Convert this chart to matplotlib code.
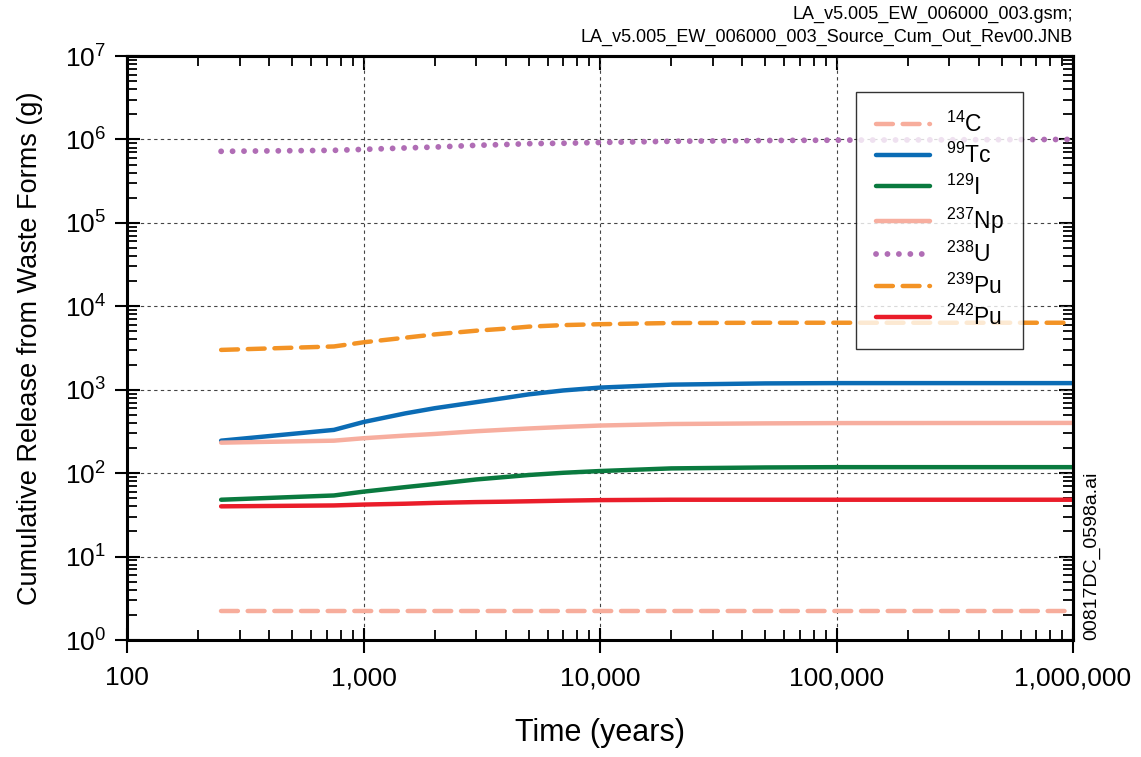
import numpy as np
import matplotlib
matplotlib.use("Agg")
import matplotlib.pyplot as plt
from matplotlib.ticker import LogLocator, FuncFormatter, NullFormatter

plt.rcParams['font.family'] = ['Liberation Sans', 'DejaVu Sans']
plt.rcParams['mathtext.default'] = 'regular'

# time grid (years)
years = [250, 750, 1000, 1500, 2000, 3000, 4000, 5000, 7000, 10000, 20000, 50000, 100000, 1000000]

# cumulative release (g)
c14 = [2.2] * 14
tc99 = [245, 330, 410, 520, 600, 710, 800, 880, 980, 1060, 1150, 1190, 1200, 1200]
i129 = [48, 54, 60, 68, 74, 84, 90, 95, 101, 106, 114, 117, 118, 118]
np237 = [232, 245, 262, 282, 295, 318, 332, 343, 358, 372, 388, 395, 398, 400]
u238 = [7.2e5, 7.4e5, 7.6e5, 7.9e5, 8.1e5, 8.5e5, 8.7e5, 8.9e5, 9.0e5, 9.2e5, 9.5e5, 9.7e5, 9.8e5, 1.0e6]
pu239 = [3000, 3300, 3700, 4200, 4600, 5100, 5400, 5700, 5950, 6100, 6300, 6350, 6350, 6350]
pu242 = [40, 41, 42, 43, 44, 45, 45.5, 46, 46.8, 47.5, 48, 48, 48, 48]

series = [
    (r'$^{14}$C', c14, '#f7ad9c', 'dash'),
    (r'$^{99}$Tc', tc99, '#0b6cb5', 'solid'),
    (r'$^{129}$I', i129, '#0a7a3f', 'solid'),
    (r'$^{237}$Np', np237, '#f7ae9f', 'solid'),
    (r'$^{238}$U', u238, '#b06db5', 'dot'),
    (r'$^{239}$Pu', pu239, '#f39325', 'dash'),
    (r'$^{242}$Pu', pu242, '#ea1d2a', 'solid'),
]

fig = plt.figure(figsize=(11.41, 7.57), dpi=100)
ax = fig.add_axes([127/1141, 1 - 640/757, (1073-127)/1141, (640-56)/757])

for label, vals, color, style in series:
    if style == 'dash':
        ax.plot(years, vals, color=color, lw=3.2, label=label,
                dashes=(3.8, 2.2), dash_capstyle='round')
    elif style == 'dot':
        ax.plot(years, vals, color=color, lw=4.2, label=label,
                dashes=(0.01, 1.95), dash_capstyle='round')
    else:
        ax.plot(years, vals, color=color, lw=3.2, label=label,
                solid_capstyle='round')

ax.set_xscale('log')
ax.set_yscale('log')
ax.set_xlim(100, 1e6)
ax.set_ylim(1, 1e7)


def set_log_ticks(axis):
    axis.set_major_locator(LogLocator(base=10, numticks=10))
    axis.set_minor_locator(LogLocator(base=10, subs=np.arange(2, 10), numticks=10))
    axis.set_minor_formatter(NullFormatter())


set_log_ticks(ax.xaxis)
set_log_ticks(ax.yaxis)
ax.xaxis.set_major_formatter(FuncFormatter(lambda v, p: f'{int(round(v)):,}'))
ax.yaxis.set_major_formatter(FuncFormatter(lambda v, p: r'$10^{%d}$' % int(round(np.log10(v)))))

ax.tick_params(which='major', direction='inout', length=18, width=1.5, labelsize=19)
ax.tick_params(which='minor', direction='in', length=7.5, width=1.3)
ax.tick_params(axis='x', which='major', pad=10)
ax.tick_params(axis='y', which='major', pad=6)

# top / right: inward ticks only
top = ax.secondary_xaxis('top')
right = ax.secondary_yaxis('right')
for sec, axis in ((top, top.xaxis), (right, right.yaxis)):
    set_log_ticks(axis)
    axis.set_major_formatter(NullFormatter())
    sec.tick_params(which='major', direction='in', length=10, width=1.5)
    sec.tick_params(which='minor', direction='in', length=7.5, width=1.3)
    for sp in sec.spines.values():
        sp.set_linewidth(2.2)

for sp in ax.spines.values():
    sp.set_linewidth(2.2)

ax.grid(True, which='major', color='#444444', ls=(0, (3, 3)), lw=0.8)

ax.set_xlabel('Time (years)', fontsize=22, labelpad=20)
ax.set_ylabel('Cumulative Release from Waste Forms (g)', fontsize=19.5, labelpad=16)

leg = ax.legend(loc='upper right', bbox_to_anchor=(1023/1141, 1 - 92/757),
                bbox_transform=fig.transFigure, fontsize=16.5, frameon=True,
                fancybox=False, edgecolor='black', handlelength=2.35,
                handletextpad=0.7, labelspacing=0.27, borderpad=0.85,
                borderaxespad=0)
leg.get_frame().set_linewidth(1.0)

fig.text(1073/1141, 1 - 14/757, 'LA_v5.005_EW_006000_003.gsm;', ha='right', va='center', fontsize=13)
fig.text(1073/1141, 1 - 37/757, 'LA_v5.005_EW_006000_003_Source_Cum_Out_Rev00.JNB',
         ha='right', va='center', fontsize=13)
fig.text(1092/1141, 1 - 640/757, '00817DC_0598a.ai', rotation=90, ha='center', va='bottom', fontsize=14)

fig.savefig('out.png', dpi=100)
